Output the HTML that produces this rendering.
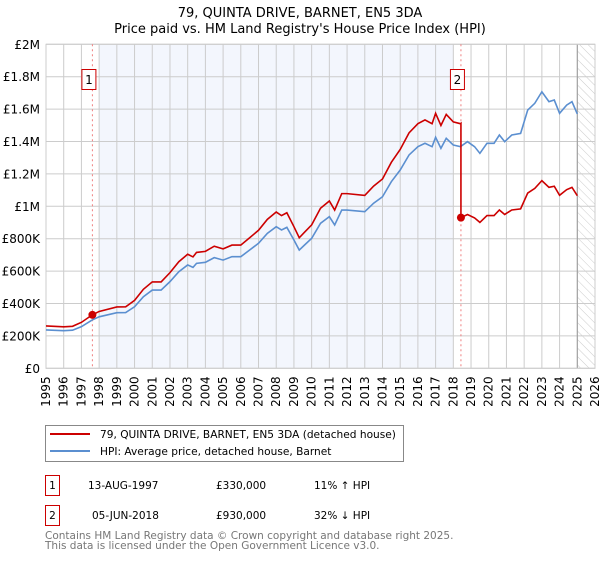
<!DOCTYPE html>
<html><head><meta charset="utf-8"><style>
body{margin:0;background:#fff;font-family:"Liberation Sans","DejaVu Sans",sans-serif;}
svg text{font-family:"DejaVu Sans","Liberation Sans",sans-serif;}
</style></head><body>
<svg id="c" width="600" height="560" xmlns="http://www.w3.org/2000/svg">
<defs><pattern id="hatch" width="6" height="6" patternUnits="userSpaceOnUse" patternTransform="rotate(-45)"><line x1="0" y1="0" x2="0" y2="6" stroke="#ccc" stroke-width="1"/></pattern></defs>
<text x="300" y="17" text-anchor="middle" font-size="13">79, QUINTA DRIVE, BARNET, EN5 3DA</text>
<text x="300" y="33" text-anchor="middle" font-size="13">Price paid vs. HM Land Registry's House Price Index (HPI)</text>
<g id="plot"></g>
<g>
<rect x="45.5" y="425.5" width="358" height="36" fill="#fff" stroke="#888"/>
<line x1="50" y1="434" x2="90" y2="434" stroke="#cc0000" stroke-width="2"/>
<text x="100" y="438" font-size="10.6">79, QUINTA DRIVE, BARNET, EN5 3DA (detached house)</text>
<line x1="50" y1="451" x2="90" y2="451" stroke="#5b8fd0" stroke-width="2"/>
<text x="100" y="455" font-size="10.6">HPI: Average price, detached house, Barnet</text>
</g>
<g font-size="10.5">
<rect x="45.5" y="475.5" width="14" height="20" fill="#fff" stroke="#cc0000"/>
<text x="52.5" y="489" text-anchor="middle">1</text>
<text x="88" y="489">13-AUG-1997</text><text x="216" y="489">£330,000</text><text x="314" y="489">11% ↑ HPI</text>
<rect x="45.5" y="505.5" width="14" height="20" fill="#fff" stroke="#cc0000"/>
<text x="52.5" y="519" text-anchor="middle">2</text>
<text x="92" y="519">05-JUN-2018</text><text x="216" y="519">£930,000</text><text x="314" y="519">32% ↓ HPI</text>
</g>
<text x="45" y="539" font-size="10.5" fill="#777">Contains HM Land Registry data © Crown copyright and database right 2025.</text>
<text x="45" y="549" font-size="10.5" fill="#777">This data is licensed under the Open Government Licence v3.0.</text>
</svg>
<script>
const hpiYears=[1995,1996,1996.5,1997,1997.6,1998,1999,1999.5,2000,2000.5,2001,2001.5,2002,2002.5,2003,2003.3,2003.5,2004,2004.5,2005,2005.5,2006,2006.5,2007,2007.5,2008,2008.3,2008.6,2009,2009.3,2009.6,2010,2010.5,2011,2011.3,2011.7,2012,2013,2013.5,2014,2014.5,2015,2015.5,2016,2016.4,2016.8,2017,2017.3,2017.6,2018,2018.4,2018.8,2019.2,2019.5,2019.9,2020.3,2020.6,2020.9,2021.3,2021.8,2022.2,2022.6,2023,2023.4,2023.7,2024,2024.4,2024.7,2025];
const hpiValues=[237,232,235,257,298,318,343,344,380,442,483,483,535,596,638,623,648,654,683,668,689,689,730,772,833,874,854,870,792,730,761,802,895,936,885,977,977,967,1019,1059,1152,1224,1317,1368,1389,1368,1426,1358,1420,1378,1368,1399,1368,1327,1389,1389,1440,1399,1440,1450,1594,1636,1707,1646,1656,1574,1625,1646,1570];
const saleYears=[1997.62,2018.43];
const salePrices=[330,930];
const saleLabels=["1","2"];
const yTicks=[0,200,400,600,800,1000,1200,1400,1600,1800,2000];
const yTickLabels=["£0","£200K","£400K","£600K","£800K","£1M","£1.2M","£1.4M","£1.6M","£1.8M","£2M"];
const xTicks=[1995,1996,1997,1998,1999,2000,2001,2002,2003,2004,2005,2006,2007,2008,2009,2010,2011,2012,2013,2014,2015,2016,2017,2018,2019,2020,2021,2022,2023,2024,2025,2026];

const X0=46,X1=595,Y0=368.3,Y1=44.3;
const xs=t=>X0+(t-1995)/31*(X1-X0);
const ys=v=>Y0-v/2000*(Y0-Y1);
const NS='http://www.w3.org/2000/svg';
const g=document.getElementById('plot');
function mk(tag,attrs,parent){const e=document.createElementNS(NS,tag);for(const k in attrs)e.setAttribute(k,attrs[k]);(parent||g).appendChild(e);return e;}
function hpiAt(t){for(let i=1;i<hpiYears.length;i++){if(t<=hpiYears[i]){const a=hpiYears[i-1],b=hpiYears[i];return hpiValues[i-1]+(hpiValues[i]-hpiValues[i-1])*(t-a)/(b-a);}}return hpiValues[hpiValues.length-1];}

const sh=mk('rect',{x:xs(1998),y:Y1,width:xs(2018)-xs(1998),height:Y0-Y1,fill:'#f3f6fd'});


const ht=mk('rect',{x:xs(2025),y:Y1,width:X1-xs(2025),height:Y0-Y1,fill:'url(#hatch)'});


xTicks.forEach(t=>{const l=mk('line',{x1:xs(t),x2:xs(t),y1:Y1,y2:Y0,stroke:'#ccc','stroke-width':1});


const tx=mk('text',{x:0,y:0,'font-size':12,'text-anchor':'end',transform:`translate(${xs(t)+4},${Y0+8}) rotate(-90)`});tx.textContent=t;

});
yTicks.forEach((v,i)=>{const l=mk('line',{x1:X0,x2:X1,y1:ys(v),y2:ys(v),stroke:'#ccc','stroke-width':1});


const tx=mk('text',{x:40,y:ys(v)+4.5,'font-size':12,'text-anchor':'end'});tx.textContent=yTickLabels[i];

});
mk('line',{x1:xs(2025),x2:xs(2025),y1:Y1,y2:Y0,stroke:'#999','stroke-width':1});
mk('rect',{x:X0,y:Y1,width:X1-X0,height:Y0-Y1,fill:'none',stroke:'#ccc'});
saleYears.forEach(t=>{const l=mk('line',{x1:xs(t),x2:xs(t),y1:Y1,y2:Y0,stroke:'#f08080','stroke-dasharray':'2,3','stroke-width':1});

});
const hp=mk('polyline',{points:hpiYears.map((t,i)=>xs(t)+','+ys(hpiValues[i])).join(' '),fill:'none',stroke:'#5b8fd0','stroke-width':1.6});


const r1=salePrices[0]/hpiAt(saleYears[0]),r2=salePrices[1]/hpiAt(saleYears[1]);
let pts=[];
hpiYears.forEach((t,i)=>{if(t<saleYears[1])pts.push([t,hpiValues[i]*r1]);});
pts.push([saleYears[1],hpiAt(saleYears[1])*r1]);pts.push([saleYears[1],salePrices[1]]);
hpiYears.forEach((t,i)=>{if(t>saleYears[1])pts.push([t,hpiValues[i]*r2]);});
const pl=mk('polyline',{points:pts.map(p=>xs(p[0])+','+ys(p[1])).join(' '),fill:'none',stroke:'#cc0000','stroke-width':1.6});


saleYears.forEach((t,i)=>{const c=mk('circle',{cx:xs(t),cy:ys(salePrices[i]),r:4,fill:'#cc0000'});


const bx=mk('rect',{x:xs(t)-10.5,y:69.5,width:14,height:20,fill:'#fff',stroke:'#cc0000'});


const tx=mk('text',{x:xs(t)-3.5,y:84,'font-size':12,'text-anchor':'middle'});tx.textContent=saleLabels[i];

});
</script>
</body></html>
